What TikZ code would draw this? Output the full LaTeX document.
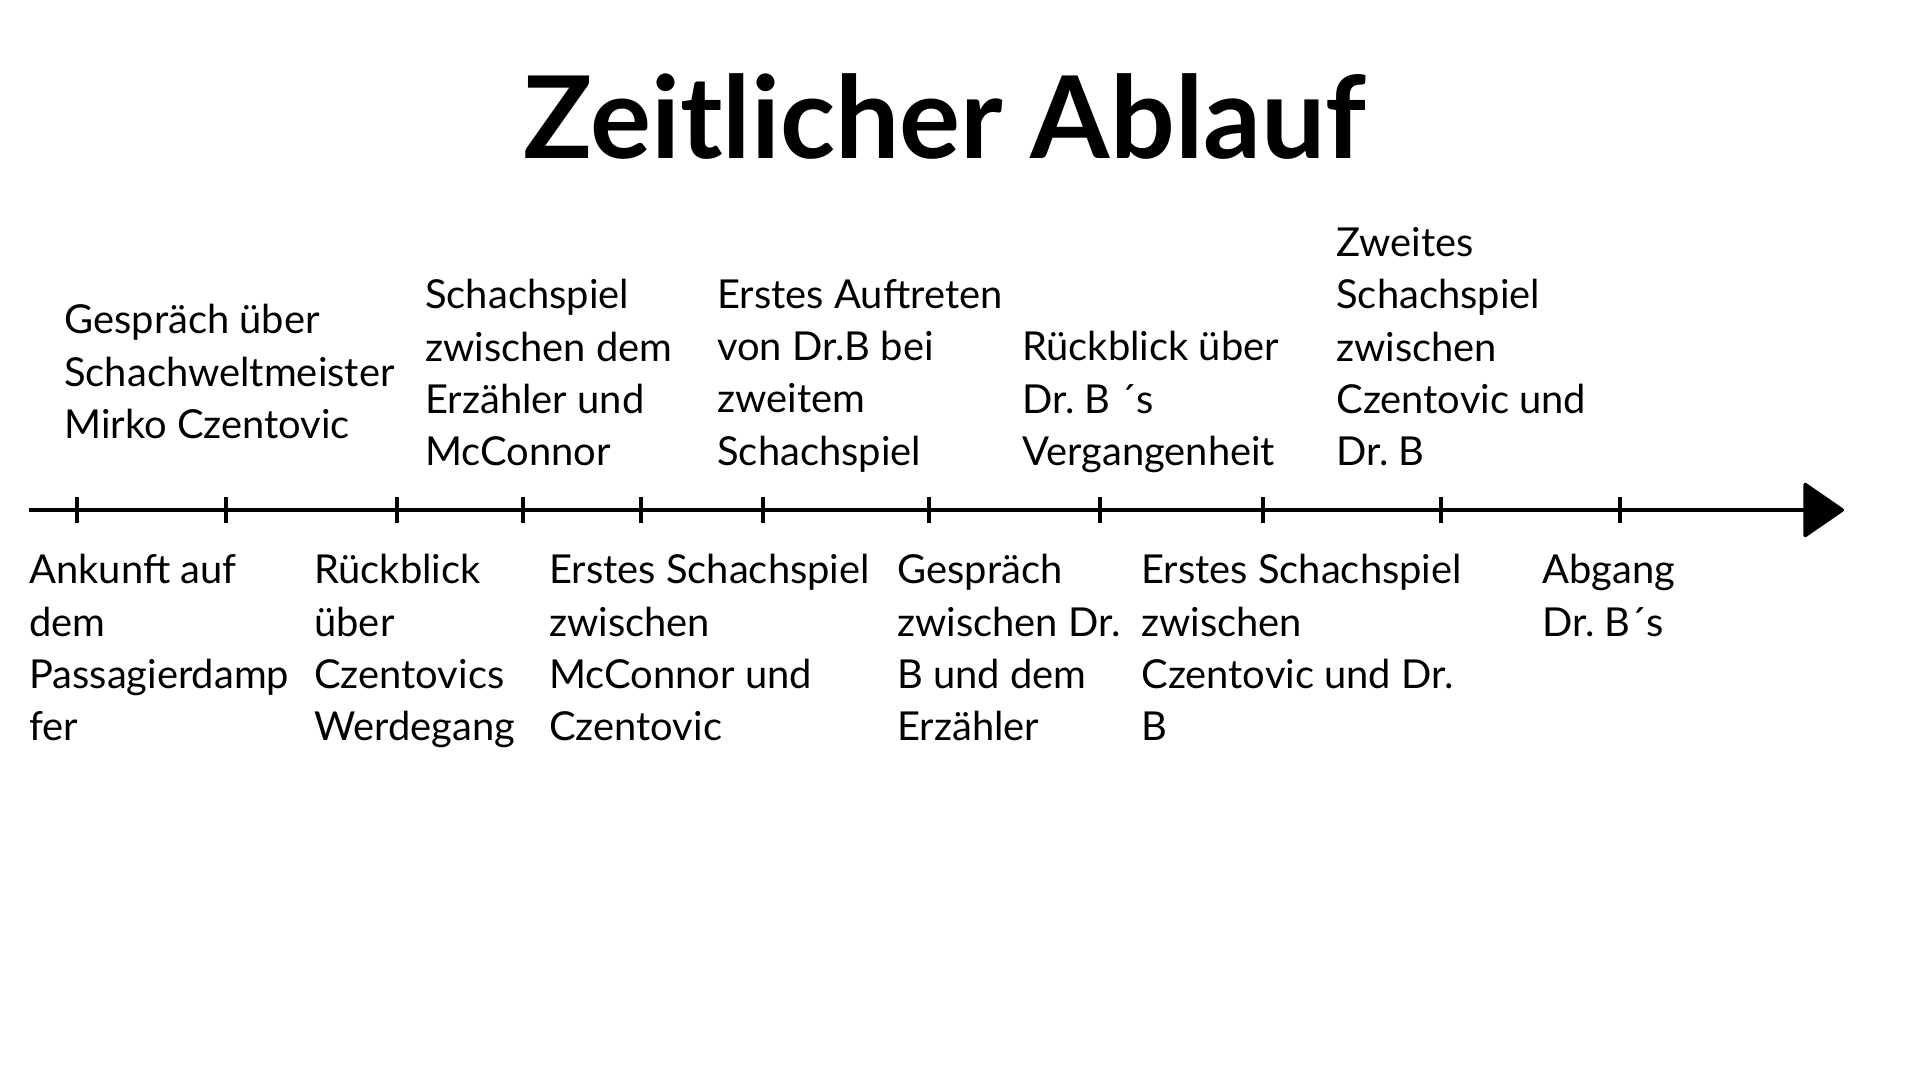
\documentclass[tikz,border=0pt]{standalone}
\usepackage{fontspec}
\setmainfont{Lato}
\usetikzlibrary{arrows.meta}
\frenchspacing

\begin{document}
\begin{tikzpicture}[x=0.02cm,y=0.02cm,
    label/.style={anchor=north west,inner sep=0pt,align=left,font=\fontsize{22.7}{29.76}\selectfont},
    tick/.style={line width=2pt}]
\useasboundingbox (0,0) rectangle (1920,1080);
\node[anchor=base,inner sep=0pt,font=\fontsize{65}{70}\selectfont\bfseries] (titel) at (945,921) {Zeitlicher Ablauf};
\coordinate (A) at (29,570) {};
\coordinate (B) at (1844,570) {};
\draw[line width=2pt,-{Triangle[length=0.84cm,width=1.14cm,round]}] (A) -- (B);
\foreach \n/\x in {1/77,2/226,3/397,4/523,5/641,6/763,7/929,8/1100,9/1263,10/1441,11/1620} {
    \coordinate (t\n) at (\x,570);
    \draw[tick] ([yshift=13*0.02cm]t\n) -- ([yshift=-13*0.02cm]t\n);
}
\foreach \n/\x/\y/\A in {1/64/776/{Gespräch über\\Schachweltmeister\\Mirko Czentovic},
    2/425/801/{Schachspiel\\zwischen dem\\Erzähler und\\McConnor},
    3/717/801/{Erstes Auftreten\\von Dr.B bei\\zweitem\\Schachspiel},
    4/1022/749/{Rückblick über\\Dr. B ´s\\Vergangenheit},
    5/1336/853/{Zweites\\Schachspiel\\zwischen\\Czentovic und\\Dr. B}} {
    \node[label] (oben\n) at (\x,\y) {\A};
}
\foreach \n/\x/\A in {1/29/{Ankunft auf\\dem\\Passagierdamp\\fer},
    2/314/{Rückblick\\über\\Czentovics\\Werdegang},
    3/549/{Erstes Schachspiel\\zwischen\\McConnor und\\Czentovic},
    4/897/{Gespräch\\zwischen Dr.\\B und dem\\Erzähler},
    5/1141/{Erstes Schachspiel\\zwischen\\Czentovic und Dr.\\B},
    6/1542/{Abgang\\Dr. B´s}} {
    \node[label] (unten\n) at (\x,526) {\A};
}
\end{tikzpicture}
\end{document}
